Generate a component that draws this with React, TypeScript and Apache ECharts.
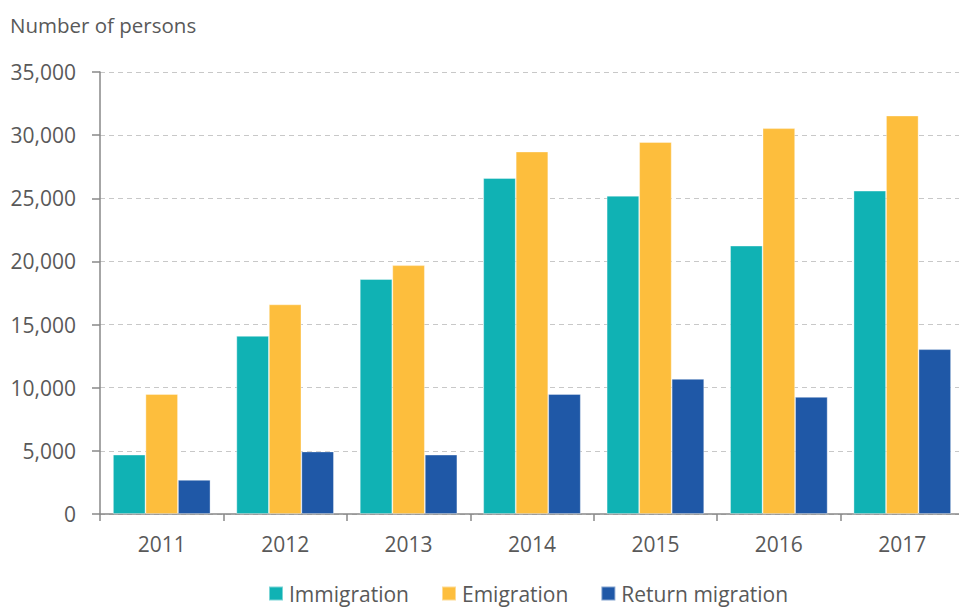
import React, { useEffect, useRef } from "react";
import * as echarts from "echarts";

const years = ["2011", "2012", "2013", "2014", "2015", "2016", "2017"];
const immigration = [4700, 14100, 18600, 26600, 25200, 21250, 25600];
const emigration = [9500, 16600, 19700, 28700, 29450, 30550, 31550];
const returnMigration = [2700, 4950, 4700, 9500, 10700, 9270, 13050];
const seriesNames = ["Immigration", "Emigration", "Return migration"];
const colors = ["#10B2B4", "#FDBE3D", "#1F58A7"];

const FONT = "'Open Sans', sans-serif";
const TEXT = "#595959";

export default function App() {
  const ref = useRef<HTMLDivElement>(null);
  useEffect(() => {
    if (!ref.current) return;
    const chart = echarts.init(ref.current, null, { renderer: "svg" });
    const data = [immigration, emigration, returnMigration];
    chart.setOption({
      animation: false,
      backgroundColor: "#ffffff",
      title: {
        text: "Number of persons",
        left: 5,
        top: 9,
        textStyle: { fontFamily: FONT, fontSize: 20.5, fontWeight: "normal", color: TEXT },
      },
      legend: {
        left: 263,
        top: 578,
        itemWidth: 14,
        itemHeight: 14,
        itemGap: 32,
        icon: "rect",
        textStyle: { fontFamily: FONT, fontSize: 21, color: TEXT, padding: [0, 0, 0, 1] },
        data: seriesNames,
      },
      grid: {
        left: 100,
        width: 864,
        top: 72,
        height: 442,
        containLabel: false,
        outerBoundsMode: "none",
      },
      xAxis: {
        type: "category",
        data: years,
        axisLine: { lineStyle: { color: "#888888", width: 1.5 } },
        axisTick: { show: true, length: 7, lineStyle: { color: "#888888", width: 1.5 } },
        axisLabel: { fontFamily: FONT, fontSize: 21, color: TEXT, margin: 19 },
      },
      yAxis: {
        type: "value",
        min: 0,
        max: 35000,
        interval: 5000,
        axisLine: { show: true, lineStyle: { color: "#888888", width: 1.5 } },
        axisTick: { show: true, length: 8, lineStyle: { color: "#888888", width: 1.5 } },
        axisLabel: {
          fontFamily: FONT,
          fontSize: 21,
          color: TEXT,
          margin: 24,
          formatter: (v: number) => v.toLocaleString("en-US"),
        },
        splitLine: { lineStyle: { color: "#C8C8C8", type: [5, 4], width: 1.2 } },
      },
      series: seriesNames.map((name, i) => ({
        name,
        type: "bar",
        data: data[i],
        barGap: "0%",
        barCategoryGap: "21%",
        itemStyle: { color: colors[i], borderColor: "rgba(255,255,255,0.45)", borderWidth: 0.8 },
      })),
    });
    return () => chart.dispose();
  }, []);
  return <div ref={ref} style={{ width: 959, height: 608, position: "absolute", left: 0, top: 0 }} />;
}
